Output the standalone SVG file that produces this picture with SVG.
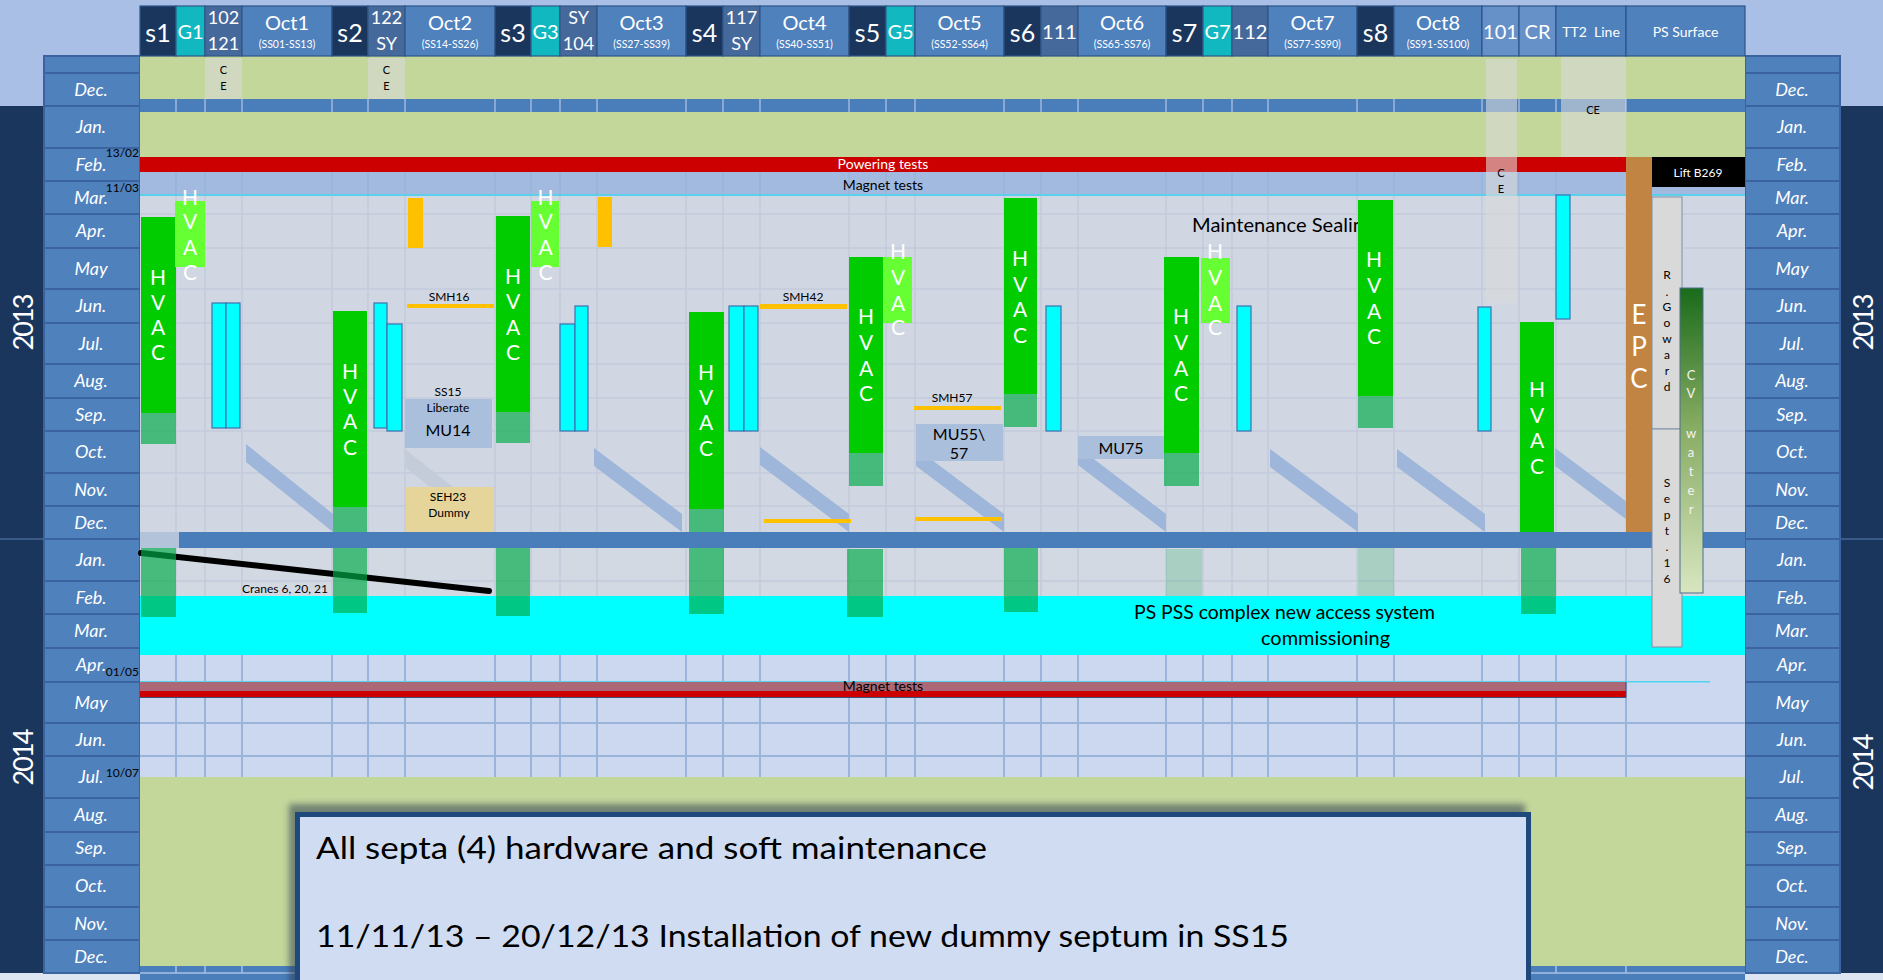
<svg xmlns="http://www.w3.org/2000/svg" width="1883" height="980" viewBox="0 0 1883 980">
<defs>
<style>
text{font-family:Lato,"Open Sans","Liberation Sans",sans-serif;}
.hd{fill:#fff;text-anchor:middle;}
.mo{fill:#fff;font-style:italic;font-size:18px;text-anchor:middle;}
.mc{fill:#4f81bd;stroke:#3a63a0;stroke-width:2;}
.hc{stroke:#2f5588;stroke-width:1.2;}
.nv{fill:#1b365d;}
.gt{fill:#12b8c0;}
.nm{fill:#46699c;}
.oc{fill:#4f81bd;}
.lb{fill:#6690c8;}
.hv{fill:#00cc00;}
.hl{fill:#66ff33;}
.tail{fill:rgb(0,172,71);fill-opacity:0.67;}
.faint{fill:rgb(0,172,71);fill-opacity:0.2;}
.cy{fill:#00ffff;stroke:#4070b0;stroke-width:1.2;}
.or{fill:#ffc000;}
.ht{fill:#fff;font-size:21px;text-anchor:middle;}
.sm{fill:#000;font-size:12px;text-anchor:middle;}
.big{fill:#000;font-size:16px;text-anchor:middle;}
.ces{fill:#000;font-size:11px;text-anchor:middle;}
.dg{fill:#9db6da;}
.ce{fill:#d9d9d9;fill-opacity:0.6;}
.gl{stroke:#c2cadb;stroke-width:1.5;fill:none;}
.gl2{stroke:#9ab4dc;stroke-width:2;fill:none;}
</style>
<linearGradient id="cvg" x1="0" y1="0" x2="0" y2="1">
<stop offset="0" stop-color="#1a6b1a"/>
<stop offset="0.45" stop-color="#86ab62"/>
<stop offset="1" stop-color="#d8e6c0"/>
</linearGradient>
<filter id="sh" x="-5%" y="-20%" width="110%" height="140%"><feGaussianBlur stdDeviation="3"/></filter>
</defs>

<!-- background -->
<rect x="0" y="0" width="1883" height="980" fill="#a9bfe6"/>
<rect x="0" y="973" width="140" height="7" fill="#dde4f2"/>
<rect x="1745" y="973" width="138" height="7" fill="#dde4f2"/>

<!-- year columns -->
<g id="years">
<rect x="0" y="106" width="43" height="867" fill="#1b365d"/>
<rect x="1840" y="106" width="43" height="867" fill="#1b365d"/>
<path d="M0 539H43M1840 539H1883" stroke="#3a5a88" stroke-width="2"/>
<text transform="translate(33,322) rotate(-90)" fill="#fff" font-size="27" text-anchor="middle" textLength="57">2013</text>
<text transform="translate(33,757) rotate(-90)" fill="#fff" font-size="27" text-anchor="middle" textLength="57">2014</text>
<text transform="translate(1873,322) rotate(-90)" fill="#fff" font-size="27" text-anchor="middle" textLength="57">2013</text>
<text transform="translate(1873,762) rotate(-90)" fill="#fff" font-size="27" text-anchor="middle" textLength="57">2014</text>
</g>

<!-- month columns -->
<g id="months-left">
<rect class="mc" x="44" y="56" width="96" height="17"/>
<rect class="mc" x="44" y="73" width="96" height="33"/>
<rect class="mc" x="44" y="106" width="96" height="42"/>
<rect class="mc" x="44" y="148" width="96" height="33"/>
<rect class="mc" x="44" y="181" width="96" height="33"/>
<rect class="mc" x="44" y="214" width="96" height="34"/>
<rect class="mc" x="44" y="248" width="96" height="41"/>
<rect class="mc" x="44" y="289" width="96" height="34"/>
<rect class="mc" x="44" y="323" width="96" height="41"/>
<rect class="mc" x="44" y="364" width="96" height="34"/>
<rect class="mc" x="44" y="398" width="96" height="33"/>
<rect class="mc" x="44" y="431" width="96" height="42"/>
<rect class="mc" x="44" y="473" width="96" height="33"/>
<rect class="mc" x="44" y="506" width="96" height="33"/>
<rect class="mc" x="44" y="539" width="96" height="42"/>
<rect class="mc" x="44" y="581" width="96" height="33"/>
<rect class="mc" x="44" y="614" width="96" height="34"/>
<rect class="mc" x="44" y="648" width="96" height="34"/>
<rect class="mc" x="44" y="682" width="96" height="41"/>
<rect class="mc" x="44" y="723" width="96" height="33"/>
<rect class="mc" x="44" y="756" width="96" height="42"/>
<rect class="mc" x="44" y="798" width="96" height="34"/>
<rect class="mc" x="44" y="832" width="96" height="33"/>
<rect class="mc" x="44" y="865" width="96" height="42"/>
<rect class="mc" x="44" y="907" width="96" height="33"/>
<rect class="mc" x="44" y="940" width="96" height="33"/>
<text class="mo" x="91" y="96">Dec.</text>
<text class="mo" x="91" y="133">Jan.</text>
<text class="mo" x="91" y="171">Feb.</text>
<text class="mo" x="91" y="204">Mar.</text>
<text class="mo" x="91" y="237">Apr.</text>
<text class="mo" x="91" y="275">May</text>
<text class="mo" x="91" y="312">Jun.</text>
<text class="mo" x="91" y="350">Jul.</text>
<text class="mo" x="91" y="387">Aug.</text>
<text class="mo" x="91" y="421">Sep.</text>
<text class="mo" x="91" y="458">Oct.</text>
<text class="mo" x="91" y="496">Nov.</text>
<text class="mo" x="91" y="529">Dec.</text>
<text class="mo" x="91" y="566">Jan.</text>
<text class="mo" x="91" y="604">Feb.</text>
<text class="mo" x="91" y="637">Mar.</text>
<text class="mo" x="91" y="671">Apr.</text>
<text class="mo" x="91" y="709">May</text>
<text class="mo" x="91" y="746">Jun.</text>
<text class="mo" x="91" y="783">Jul.</text>
<text class="mo" x="91" y="821">Aug.</text>
<text class="mo" x="91" y="854">Sep.</text>
<text class="mo" x="91" y="892">Oct.</text>
<text class="mo" x="91" y="930">Nov.</text>
<text class="mo" x="91" y="963">Dec.</text>
</g>
<g id="months-right">
<rect class="mc" x="1745" y="56" width="95" height="17"/>
<rect class="mc" x="1745" y="73" width="95" height="33"/>
<rect class="mc" x="1745" y="106" width="95" height="42"/>
<rect class="mc" x="1745" y="148" width="95" height="33"/>
<rect class="mc" x="1745" y="181" width="95" height="33"/>
<rect class="mc" x="1745" y="214" width="95" height="34"/>
<rect class="mc" x="1745" y="248" width="95" height="41"/>
<rect class="mc" x="1745" y="289" width="95" height="34"/>
<rect class="mc" x="1745" y="323" width="95" height="41"/>
<rect class="mc" x="1745" y="364" width="95" height="34"/>
<rect class="mc" x="1745" y="398" width="95" height="33"/>
<rect class="mc" x="1745" y="431" width="95" height="42"/>
<rect class="mc" x="1745" y="473" width="95" height="33"/>
<rect class="mc" x="1745" y="506" width="95" height="33"/>
<rect class="mc" x="1745" y="539" width="95" height="42"/>
<rect class="mc" x="1745" y="581" width="95" height="33"/>
<rect class="mc" x="1745" y="614" width="95" height="34"/>
<rect class="mc" x="1745" y="648" width="95" height="34"/>
<rect class="mc" x="1745" y="682" width="95" height="41"/>
<rect class="mc" x="1745" y="723" width="95" height="33"/>
<rect class="mc" x="1745" y="756" width="95" height="42"/>
<rect class="mc" x="1745" y="798" width="95" height="34"/>
<rect class="mc" x="1745" y="832" width="95" height="33"/>
<rect class="mc" x="1745" y="865" width="95" height="42"/>
<rect class="mc" x="1745" y="907" width="95" height="33"/>
<rect class="mc" x="1745" y="940" width="95" height="33"/>
<text class="mo" x="1792" y="96">Dec.</text>
<text class="mo" x="1792" y="133">Jan.</text>
<text class="mo" x="1792" y="171">Feb.</text>
<text class="mo" x="1792" y="204">Mar.</text>
<text class="mo" x="1792" y="237">Apr.</text>
<text class="mo" x="1792" y="275">May</text>
<text class="mo" x="1792" y="312">Jun.</text>
<text class="mo" x="1792" y="350">Jul.</text>
<text class="mo" x="1792" y="387">Aug.</text>
<text class="mo" x="1792" y="421">Sep.</text>
<text class="mo" x="1792" y="458">Oct.</text>
<text class="mo" x="1792" y="496">Nov.</text>
<text class="mo" x="1792" y="529">Dec.</text>
<text class="mo" x="1792" y="566">Jan.</text>
<text class="mo" x="1792" y="604">Feb.</text>
<text class="mo" x="1792" y="637">Mar.</text>
<text class="mo" x="1792" y="671">Apr.</text>
<text class="mo" x="1792" y="709">May</text>
<text class="mo" x="1792" y="746">Jun.</text>
<text class="mo" x="1792" y="783">Jul.</text>
<text class="mo" x="1792" y="821">Aug.</text>
<text class="mo" x="1792" y="854">Sep.</text>
<text class="mo" x="1792" y="892">Oct.</text>
<text class="mo" x="1792" y="930">Nov.</text>
<text class="mo" x="1792" y="963">Dec.</text>
</g>

<!-- chart background bands -->
<g id="bands">
<rect x="140" y="56" width="1605" height="43" fill="#c4d79b"/>
<rect x="140" y="99" width="1605" height="13" fill="#4a7ebb"/>
<path d="M176 99v13M205 99v13M242 99v13M332 99v13M368 99v13M405 99v13M495 99v13M531 99v13M560 99v13M597 99v13M686 99v13M723 99v13M760 99v13M849 99v13M886 99v13M915 99v13M1004 99v13M1041 99v13M1078 99v13M1166 99v13M1203 99v13M1232 99v13M1268 99v13M1357 99v13M1394 99v13M1482 99v13M1519 99v13M1556 99v13M1626 99v13" stroke="#9fb7dc" stroke-width="1.5"/>
<rect x="140" y="112" width="1605" height="45" fill="#c4d79b"/>
<rect x="140" y="172" width="1605" height="23" fill="#a2badf"/>
<path d="M176 172v23M205 172v23M242 172v23M332 172v23M368 172v23M405 172v23M495 172v23M531 172v23M560 172v23M597 172v23M686 172v23M723 172v23M760 172v23M849 172v23M886 172v23M915 172v23M1004 172v23M1041 172v23M1078 172v23M1166 172v23M1203 172v23M1232 172v23M1268 172v23M1357 172v23M1394 172v23M1482 172v23M1519 172v23M1556 172v23" stroke="#98b2d9" stroke-width="1.5"/>
<rect x="140" y="196" width="1605" height="336" fill="#d0d7e2"/>
<path class="gl" d="M176 196V532M205 196V532M242 196V532M332 196V532M368 196V532M405 196V532M495 196V532M531 196V532M560 196V532M597 196V532M686 196V532M723 196V532M760 196V532M849 196V532M886 196V532M915 196V532M1004 196V532M1041 196V532M1078 196V532M1166 196V532M1203 196V532M1232 196V532M1268 196V532M1357 196V532M1394 196V532M1482 196V532M1519 196V532M1556 196V532M1626 196V532M140 214H1745M140 248H1745M140 289H1745M140 323H1745M140 364H1745M140 398H1745M140 431H1745M140 473H1745M140 506H1745"/>
<rect x="140" y="548" width="1605" height="48" fill="#d3d9e2"/>
<path class="gl" d="M176 548V596M205 548V596M242 548V596M332 548V596M368 548V596M405 548V596M495 548V596M531 548V596M560 548V596M597 548V596M686 548V596M723 548V596M760 548V596M849 548V596M886 548V596M915 548V596M1004 548V596M1041 548V596M1078 548V596M1166 548V596M1203 548V596M1232 548V596M1268 548V596M1357 548V596M1394 548V596M1482 548V596M1519 548V596M1556 548V596M1626 548V596M140 581H1745"/>
<rect x="140" y="655" width="1605" height="122" fill="#cbd8f0"/>
<path class="gl2" d="M176 655V777M205 655V777M242 655V777M332 655V777M368 655V777M405 655V777M495 655V777M531 655V777M560 655V777M597 655V777M686 655V777M723 655V777M760 655V777M849 655V777M886 655V777M915 655V777M1004 655V777M1041 655V777M1078 655V777M1166 655V777M1203 655V777M1232 655V777M1268 655V777M1357 655V777M1394 655V777M1482 655V777M1519 655V777M1556 655V777M1626 655V777M140 723H1745M140 756H1745"/>
<rect x="140" y="777" width="1605" height="189" fill="#c4d79b"/>
<rect x="140" y="966" width="1605" height="14" fill="#4a7ebb"/>
<path d="M140 973H1745M176 966v7M205 966v7M242 966v7M332 966v7M1519 966v7M1556 966v7M1626 966v7" stroke="#a9c0e2" stroke-width="1.5"/>
</g>

<!-- header -->
<g id="header">
<rect class="nv hc" x="140" y="6" width="36" height="50"/>
<rect class="gt hc" x="176" y="6" width="29" height="50"/>
<rect class="nm hc" x="205" y="6" width="37" height="50"/>
<rect class="oc hc" x="242" y="6" width="90" height="50"/>
<rect class="nv hc" x="332" y="6" width="36" height="50"/>
<rect class="nm hc" x="368" y="6" width="37" height="50"/>
<rect class="oc hc" x="405" y="6" width="90" height="50"/>
<rect class="nv hc" x="495" y="6" width="36" height="50"/>
<rect class="gt hc" x="531" y="6" width="29" height="50"/>
<rect class="nm hc" x="560" y="6" width="37" height="50"/>
<rect class="oc hc" x="597" y="6" width="89" height="50"/>
<rect class="nv hc" x="686" y="6" width="37" height="50"/>
<rect class="nm hc" x="723" y="6" width="37" height="50"/>
<rect class="oc hc" x="760" y="6" width="89" height="50"/>
<rect class="nv hc" x="849" y="6" width="37" height="50"/>
<rect class="gt hc" x="886" y="6" width="29" height="50"/>
<rect class="oc hc" x="915" y="6" width="89" height="50"/>
<rect class="nv hc" x="1004" y="6" width="37" height="50"/>
<rect class="nm hc" x="1041" y="6" width="37" height="50"/>
<rect class="oc hc" x="1078" y="6" width="88" height="50"/>
<rect class="nv hc" x="1166" y="6" width="37" height="50"/>
<rect class="gt hc" x="1203" y="6" width="29" height="50"/>
<rect class="nm hc" x="1232" y="6" width="36" height="50"/>
<rect class="oc hc" x="1268" y="6" width="89" height="50"/>
<rect class="nv hc" x="1357" y="6" width="37" height="50"/>
<rect class="oc hc" x="1394" y="6" width="88" height="50"/>
<rect class="lb hc" x="1482" y="6" width="37" height="50"/>
<rect class="lb hc" x="1519" y="6" width="37" height="50"/>
<rect class="oc hc" x="1556" y="6" width="70" height="50"/>
<rect class="oc hc" x="1626" y="6" width="119" height="50"/>
<g class="hd" font-size="25">
<text x="158" y="42">s1</text><text x="350" y="42">s2</text><text x="513" y="42">s3</text><text x="704.5" y="42">s4</text>
<text x="867.5" y="42">s5</text><text x="1022.5" y="42">s6</text><text x="1184.5" y="42">s7</text><text x="1375.5" y="42">s8</text>
</g>
<g class="hd" font-size="20">
<text x="190.5" y="39">G1</text><text x="545.5" y="39">G3</text><text x="900.5" y="39">G5</text><text x="1217.5" y="39">G7</text>
<text x="287" y="30">Oct1</text><text x="450" y="30">Oct2</text><text x="641.5" y="30">Oct3</text><text x="804.5" y="30">Oct4</text>
<text x="959.5" y="30">Oct5</text><text x="1122" y="30">Oct6</text><text x="1312.5" y="30">Oct7</text><text x="1438" y="30">Oct8</text>
<text x="1059.5" y="39">111</text><text x="1250" y="39">112</text>
<text x="1500.5" y="39">101</text><text x="1537.5" y="39">CR</text>
</g>
<g class="hd" font-size="18">
<text x="223.5" y="24">102</text><text x="223.5" y="50">121</text>
<text x="386.5" y="24">122</text><text x="386.5" y="50">SY</text>
<text x="578.5" y="24">SY</text><text x="578.5" y="50">104</text>
<text x="741.5" y="24">117</text><text x="741.5" y="50">SY</text>
</g>
<g class="hd" font-size="10.5">
<text x="287" y="48">(SS01-SS13)</text><text x="450" y="48">(SS14-SS26)</text><text x="641.5" y="48">(SS27-SS39)</text><text x="804.5" y="48">(SS40-SS51)</text>
<text x="959.5" y="48">(SS52-SS64)</text><text x="1122" y="48">(SS65-SS76)</text><text x="1312.5" y="48">(SS77-SS90)</text><text x="1438" y="48">(SS91-SS100)</text>
</g>
<g class="hd" font-size="14">
<text x="1591" y="37" xml:space="preserve">TT2  Line</text>
<text x="1685.5" y="37">PS Surface</text>
</g>
</g>

<!-- diagonal stripes -->
<g id="stripes">
<polygon class="dg" points="246,444 333,514 333,532 246,462"/>
<polygon points="406,450 453,487 430,487 406,468" fill="#c4ccda"/>
<polygon class="dg" points="594,448 682,514 682,532 594,466"/>
<polygon class="dg" points="760,447 849,514 849,532 760,465"/>
<polygon class="dg" points="916,448 1004,514 1004,532 916,466"/>
<polygon class="dg" points="1078,447 1166,514 1166,532 1078,465"/>
<polygon class="dg" points="1270,449 1358,514 1358,532 1270,467"/>
<polygon class="dg" points="1397,449 1485,514 1485,532 1397,467"/>
<polygon class="dg" points="1555,448 1643,514 1643,532 1555,466"/>
</g>

<!-- CE overlays -->
<g id="ce-overlays">
<rect class="ce" x="205" y="58" width="37" height="41"/>
<rect class="ce" x="368" y="58" width="37" height="41"/>
<rect class="ce" x="1561" y="57" width="65" height="100"/>
<text class="ces" x="223.5" y="74">C</text><text class="ces" x="223.5" y="90">E</text>
<text class="ces" x="386.5" y="74">C</text><text class="ces" x="386.5" y="90">E</text>
<text class="ces" x="1593" y="114">CE</text>
</g>

<!-- powering / magnet tests -->
<g id="powering-tests">
<rect x="140" y="157" width="1486" height="15" fill="#cc0000"/>
<text x="883" y="169" fill="#fff" font-size="14" text-anchor="middle">Powering tests</text>
</g>
<g id="magnet-tests-2013">
<rect x="140" y="194" width="1605" height="2" fill="#5cd0ea"/>
<text x="883" y="190" fill="#000" font-size="14" text-anchor="middle">Magnet tests</text>
</g>
<g id="ce-101">
<rect class="ce" x="1486" y="59" width="31" height="244"/>
<text class="ces" x="1501" y="177">C</text><text class="ces" x="1501" y="193">E</text>
</g>

<!-- date labels -->
<g id="dates" font-size="12" fill="#000" text-anchor="end">
<text x="139" y="157">13/02</text>
<text x="139" y="192">11/03</text>
<text x="139" y="676">01/05</text>
<text x="139" y="777">10/07</text>
</g>

<!-- year strip -->
<g id="year-strip">
<rect x="140" y="532" width="39" height="16" fill="#b3c3da"/>
<rect x="179" y="532" width="1566" height="16" fill="#4a7ebb"/>
</g>

<!-- PSS commissioning -->
<g id="pss">
<rect x="140" y="596" width="1605" height="59" fill="#00ffff"/>
<text x="1134" y="619" font-size="20" fill="#000" textLength="301" lengthAdjust="spacingAndGlyphs">PS PSS complex new access system</text>
<text x="1261" y="645" font-size="20" fill="#000" textLength="129" lengthAdjust="spacingAndGlyphs">commissioning</text>
</g>

<!-- magnet tests 2014 -->
<g id="magnet-tests-2014">
<rect x="140" y="681" width="1570" height="1.5" fill="#4fd4ee"/>
<rect x="140" y="682" width="1486" height="9" fill="#ad6877"/>
<rect x="140" y="691" width="1486" height="6" fill="#cc0000"/>
<path d="M140 697.5H1626V682" stroke="#3a4f7a" stroke-width="1" fill="none"/>
<text x="883" y="691" fill="#000" font-size="14" text-anchor="middle">Magnet tests</text>
</g>

<!-- Maintenance sealing text -->
<g id="maintenance">
<text x="1192" y="232" font-size="19" fill="#000" textLength="172" lengthAdjust="spacingAndGlyphs">Maintenance Sealin</text>
</g>

<!-- connectors -->
<g id="connectors">
<line x1="141" y1="553" x2="489" y2="591" stroke="#000" stroke-width="6" stroke-linecap="round"/>
<text x="242" y="593" font-size="12" fill="#000">Cranes 6, 20, 21</text>
</g>

<!-- orange items -->
<g id="orange-oct2"><rect class="or" x="408" y="198" width="15" height="50"/></g>
<g id="orange-oct3"><rect class="or" x="598" y="197" width="14" height="50"/></g>
<g id="smh16"><rect class="or" x="407" y="304" width="87" height="4"/><text class="sm" x="449" y="301">SMH16</text></g>
<g id="smh42"><rect class="or" x="760" y="304" width="87" height="5"/><text class="sm" x="803" y="301">SMH42</text><rect class="or" x="764" y="519" width="87" height="4"/></g>
<g id="smh57"><rect class="or" x="914" y="406" width="87" height="4"/><text class="sm" x="952" y="402">SMH57</text><rect class="or" x="915" y="517" width="87" height="4"/></g>

<!-- boxes -->
<g id="mu14">
<rect x="405" y="399" width="87" height="49" fill="#aabfdc"/>
<text class="sm" x="448" y="396">SS15</text>
<text class="sm" x="448" y="412">Liberate</text>
<text class="big" x="448" y="436">MU14</text>
</g>
<g id="seh23">
<rect x="406" y="487" width="88" height="45" fill="#e5d59b"/>
<text class="sm" x="448" y="501">SEH23</text>
<text class="sm" x="449" y="517">Dummy</text>
</g>
<g id="mu55">
<rect x="916" y="424" width="87" height="37" fill="#aabfdc"/>
<text class="big" x="959" y="440">MU55\</text>
<text class="big" x="959" y="459">57</text>
</g>
<g id="mu75">
<rect x="1078" y="436" width="86" height="23" fill="#aabfdc"/>
<text class="big" x="1121" y="454">MU75</text>
</g>

<!-- cyan bars -->
<g id="cyan-102"><rect class="cy" x="212" y="303" width="14" height="125"/><rect class="cy" x="226" y="303" width="14" height="125"/></g>
<g id="cyan-122"><rect class="cy" x="374" y="303" width="13" height="125"/><rect class="cy" x="387" y="324" width="15" height="107"/></g>
<g id="cyan-sy104"><rect class="cy" x="560" y="324" width="15" height="107"/><rect class="cy" x="575" y="306" width="13" height="125"/></g>
<g id="cyan-117"><rect class="cy" x="729" y="306" width="15" height="125"/><rect class="cy" x="744" y="306" width="14" height="125"/></g>
<g id="cyan-111"><rect class="cy" x="1046" y="306" width="15" height="125"/></g>
<g id="cyan-112"><rect class="cy" x="1237" y="306" width="14" height="125"/></g>
<g id="cyan-101"><rect class="cy" x="1478" y="307" width="13" height="124"/></g>
<g id="cyan-tt2"><rect class="cy" x="1556" y="195" width="14" height="124"/></g>

<!-- HVAC bars -->
<g id="hvac-s1">
<rect class="hv" x="141" y="217" width="35" height="196"/><rect class="tail" x="141" y="413" width="35" height="31"/>
<text class="ht"><tspan x="158" y="285">H</tspan><tspan x="158" y="310">V</tspan><tspan x="158" y="335">A</tspan><tspan x="158" y="360">C</tspan></text>
</g>
<g id="hvac-g1">
<rect class="hl" x="175" y="201" width="30" height="66"/>
<text class="ht"><tspan x="190" y="205">H</tspan><tspan x="190" y="229">V</tspan><tspan x="190" y="255">A</tspan><tspan x="190" y="280">C</tspan></text>
</g>
<g id="hvac-s2">
<rect class="hv" x="333" y="311" width="34" height="196"/><rect class="tail" x="333" y="507" width="34" height="25"/>
<text class="ht"><tspan x="350" y="379">H</tspan><tspan x="350" y="404">V</tspan><tspan x="350" y="429">A</tspan><tspan x="350" y="455">C</tspan></text>
</g>
<g id="hvac-s3">
<rect class="hv" x="496" y="216" width="34" height="196"/><rect class="tail" x="496" y="412" width="34" height="31"/>
<text class="ht"><tspan x="513" y="284">H</tspan><tspan x="513" y="309">V</tspan><tspan x="513" y="335">A</tspan><tspan x="513" y="360">C</tspan></text>
</g>
<g id="hvac-g3">
<rect class="hl" x="531" y="201" width="28" height="66"/>
<text class="ht"><tspan x="545.5" y="205">H</tspan><tspan x="545.5" y="229">V</tspan><tspan x="545.5" y="255">A</tspan><tspan x="545.5" y="280">C</tspan></text>
</g>
<g id="hvac-s4">
<rect class="hv" x="689" y="312" width="35" height="197"/><rect class="tail" x="689" y="509" width="35" height="23"/>
<text class="ht"><tspan x="706" y="380">H</tspan><tspan x="706" y="405">V</tspan><tspan x="706" y="430">A</tspan><tspan x="706" y="456">C</tspan></text>
</g>
<g id="hvac-s5">
<rect class="hv" x="849" y="257" width="34" height="196"/><rect class="tail" x="849" y="453" width="34" height="33"/>
<text class="ht"><tspan x="866" y="324">H</tspan><tspan x="866" y="350">V</tspan><tspan x="866" y="376">A</tspan><tspan x="866" y="401">C</tspan></text>
</g>
<g id="hvac-g5">
<rect class="hl" x="883" y="257" width="29" height="66"/>
<text class="ht"><tspan x="898" y="259">H</tspan><tspan x="898" y="285">V</tspan><tspan x="898" y="311">A</tspan><tspan x="898" y="335">C</tspan></text>
</g>
<g id="hvac-s6">
<rect class="hv" x="1004" y="198" width="33" height="196"/><rect class="tail" x="1004" y="394" width="33" height="33"/>
<text class="ht"><tspan x="1020" y="266">H</tspan><tspan x="1020" y="292">V</tspan><tspan x="1020" y="317">A</tspan><tspan x="1020" y="343">C</tspan></text>
</g>
<g id="hvac-s7">
<rect class="hv" x="1164" y="257" width="35" height="196"/><rect class="tail" x="1164" y="453" width="35" height="33"/>
<text class="ht"><tspan x="1181" y="324">H</tspan><tspan x="1181" y="350">V</tspan><tspan x="1181" y="376">A</tspan><tspan x="1181" y="401">C</tspan></text>
</g>
<g id="hvac-g7">
<rect class="hl" x="1201" y="258" width="29" height="65"/>
<text class="ht"><tspan x="1215" y="259">H</tspan><tspan x="1215" y="285">V</tspan><tspan x="1215" y="311">A</tspan><tspan x="1215" y="335">C</tspan></text>
</g>
<g id="hvac-s8">
<rect class="hv" x="1358" y="200" width="35" height="196"/><rect class="tail" x="1358" y="396" width="35" height="32"/>
<text class="ht"><tspan x="1374" y="267">H</tspan><tspan x="1374" y="293">V</tspan><tspan x="1374" y="319">A</tspan><tspan x="1374" y="344">C</tspan></text>
</g>
<g id="hvac-cr">
<rect class="hv" x="1520" y="322" width="34" height="210"/>
<text class="ht"><tspan x="1537" y="397">H</tspan><tspan x="1537" y="423">V</tspan><tspan x="1537" y="448">A</tspan><tspan x="1537" y="474">C</tspan></text>
</g>

<!-- 2014 HVAC tails -->
<g id="hvac-2014">
<rect class="tail" x="141" y="548" width="35" height="69"/>
<rect class="tail" x="333" y="548" width="34" height="65"/>
<rect class="tail" x="496" y="548" width="34" height="68"/>
<rect class="tail" x="689" y="548" width="35" height="66"/>
<rect class="tail" x="847" y="549" width="36" height="68"/>
<rect class="tail" x="1004" y="548" width="34" height="64"/>
<rect class="faint" x="1166" y="549" width="36" height="47"/>
<rect class="faint" x="1358" y="548" width="36" height="48"/>
<rect class="tail" x="1521" y="548" width="35" height="66"/>
</g>

<!-- EPC -->
<g id="epc">
<rect x="1626" y="157" width="26" height="375" fill="#c28443"/>
<text fill="#fff" font-size="26" text-anchor="middle"><tspan x="1639" y="324">E</tspan><tspan x="1639" y="356">P</tspan><tspan x="1639" y="388">C</tspan></text>
</g>
<g id="lift">
<rect x="1652" y="157" width="93" height="30" fill="#000"/>
<text x="1698" y="177" fill="#fff" font-size="12" text-anchor="middle">Lift B269</text>
</g>
<g id="goward">
<rect x="1652" y="197" width="30" height="232" fill="#d9d9d9" stroke="#7f8fa6" stroke-width="1"/>
<text class="sm"><tspan x="1667" y="279">R</tspan><tspan x="1667" y="296">.</tspan><tspan x="1667" y="311">G</tspan><tspan x="1667" y="327">o</tspan><tspan x="1667" y="343">w</tspan><tspan x="1667" y="359">a</tspan><tspan x="1667" y="375">r</tspan><tspan x="1667" y="391">d</tspan></text>
</g>
<g id="sept16">
<rect x="1652" y="429" width="30" height="218" fill="#d9d9d9" stroke="#7f8fa6" stroke-width="1"/>
<text class="sm"><tspan x="1667" y="487">S</tspan><tspan x="1667" y="503">e</tspan><tspan x="1667" y="519">p</tspan><tspan x="1667" y="535">t</tspan><tspan x="1667" y="551">.</tspan><tspan x="1667" y="567">1</tspan><tspan x="1667" y="583">6</tspan></text>
</g>
<g id="cv-water">
<rect x="1680" y="288" width="23" height="305" fill="url(#cvg)" stroke="#4a6e8f" stroke-width="1"/>
<text fill="#f4f4f4" font-size="13" text-anchor="middle"><tspan x="1691" y="380">C</tspan><tspan x="1691" y="398">V</tspan><tspan x="1691" y="438">w</tspan><tspan x="1691" y="457">a</tspan><tspan x="1691" y="476">t</tspan><tspan x="1691" y="495">e</tspan><tspan x="1691" y="514">r</tspan></text>
</g>

<!-- note box -->
<g id="note">
<rect x="289" y="804" width="1236" height="200" fill="#2a3a50" opacity="0.55" filter="url(#sh)"/>
<rect x="297.5" y="814.5" width="1231" height="200" fill="#d0dcf1" stroke="#1f497d" stroke-width="5"/>
<text x="316" y="859" font-size="30" fill="#000" textLength="671" lengthAdjust="spacingAndGlyphs">All septa (4) hardware and soft maintenance</text>
<text x="316" y="947" font-size="30" fill="#000" textLength="973" lengthAdjust="spacingAndGlyphs">11/11/13 – 20/12/13 Installation of new dummy septum in SS15</text>
</g>
</svg>
